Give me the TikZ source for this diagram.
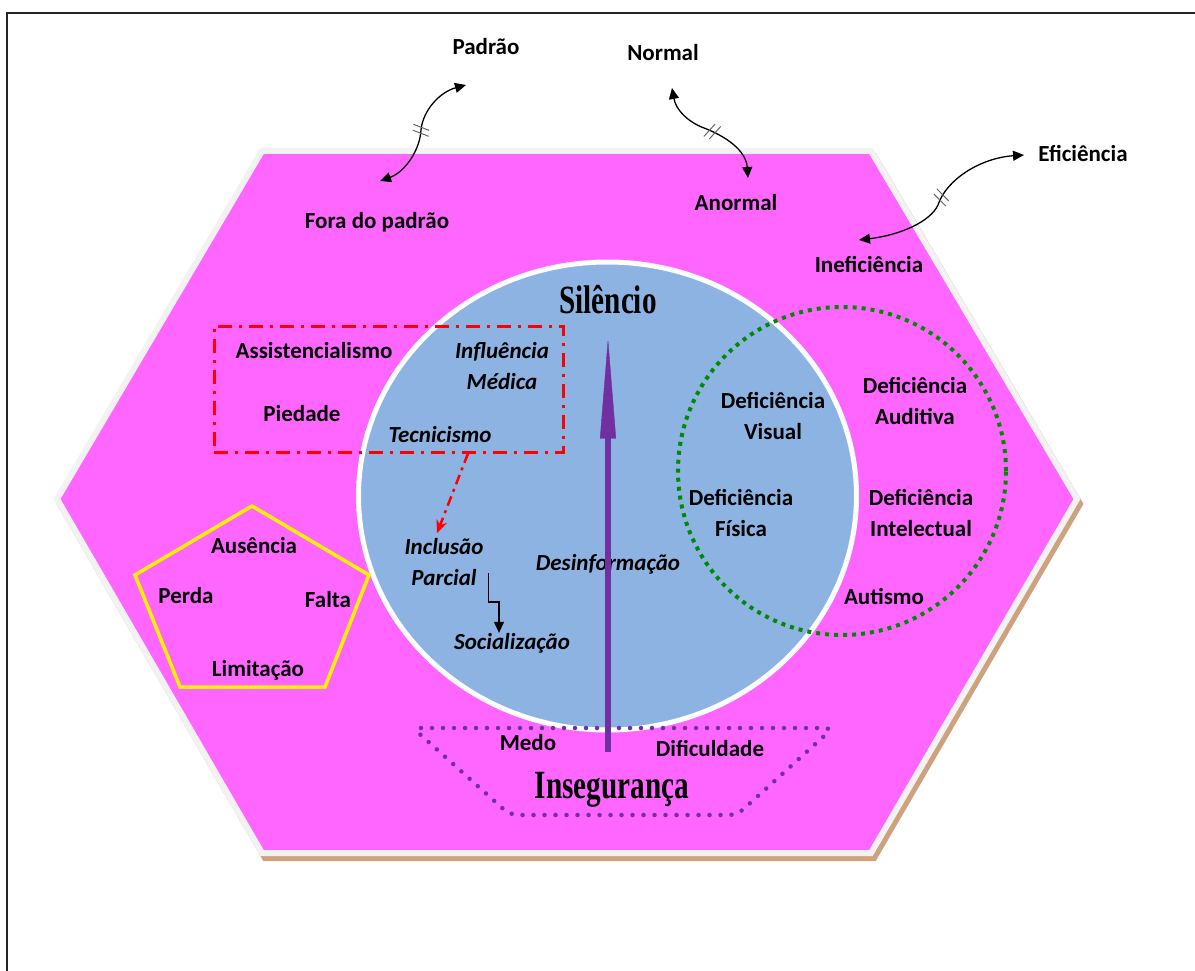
\documentclass[tikz,border=0pt]{standalone}
\usepackage{fontspec}
\usepackage{graphicx}
\setmainfont{Carlito}
\newfontfamily\titlefont{Liberation Serif}
\usetikzlibrary{arrows.meta, decorations.markings}

\definecolor{hexpink}{HTML}{FF66FF}
\definecolor{hexrim}{HTML}{F2F2F2}
\definecolor{hexshadow}{HTML}{CDA27F}
\definecolor{discblue}{HTML}{8DB3E2}
\definecolor{riserpurple}{HTML}{7030A0}
\definecolor{ringgreen}{HTML}{008A00}

\begin{document}
\begin{tikzpicture}[
      x=1pt, y=-1pt,
      every node/.style={inner sep=0pt, align=center, text=black,
                         font=\fontsize{23}{31}\selectfont\bfseries},
      itlabel/.style={font=\fontsize{23}{31}\selectfont\bfseries\itshape},
      title/.style={font=\titlefont\fontsize{40}{40}\selectfont\bfseries},
      pair/.style={{Triangle[length=11pt,width=10pt]}-{Triangle[length=11pt,width=10pt]},
                   line width=1.3pt, postaction={decorate},
                   decoration={markings, mark=at position 0.5 with {
                     \draw[arrows=-, black!60, line width=1pt] (-5,8) -- (0,-8);
                     \draw[arrows=-, black!60, line width=1pt] (1,8) -- (6,-8);}}},
      medbox/.style={draw=red, line width=3pt,
                     dash pattern=on 14pt off 7pt on 3pt off 7pt},
      riser/.style={draw=riserpurple, line width=6pt,
                    -{Triangle[length=100pt,width=16pt,line width=0.4pt]}},
  ]
    \useasboundingbox (0,0) rectangle (1195,971);

    %% --- page frame ---
    \draw[line width=2pt, black!85] (7,971) -- (7,13) -- (1195,13);

    %% --- hexagon with rim and shadow ---
    \fill[hexshadow, draw=hexshadow, line width=6pt, line join=miter]
      (265,156) -- (874,156) -- (1080,504) -- (874,858) -- (265,858) -- (60,504) -- cycle;
    \draw[fill=hexpink, draw=hexrim, line width=6pt, line join=miter]
      (262,151) -- (871,151) -- (1077,499) -- (871,853) -- (262,853) -- (57,499) -- cycle;

    %% --- central disc and rings ---
    \draw[fill=discblue, draw=white, line width=5pt]
      (607.5,496) ellipse[x radius=249pt, y radius=234pt];
    \draw[ringgreen, line width=4pt, dash pattern=on 4pt off 5pt]
      (842,471) circle[radius=164pt];
    \draw[yellow, line width=3.5pt, line join=miter]
      (252,506) -- (369,575) -- (325,687) -- (180,687) -- (135,575) -- cycle;
    \draw[riserpurple, line width=4.5pt, line cap=round,
          dash pattern=on 0pt off 11pt, rounded corners=8pt]
      (413,728) -- (833,728) -- (737,815) -- (510,815) -- cycle;
    \node[medbox, minimum width=349pt, minimum height=126pt] (medic) at (388.5,389) {};

    %% --- outer labels ---
    \node (pad)   at (486,47)   {Padrão};
    \node (norm)  at (663,53)   {Normal};
    \node (efic)  at (1083,153) {Eficiência};
    \node (fora)  at (377,222)  {Fora do padrão};
    \node (anorm) at (736,203)  {Anormal};
    \node (inef)  at (869,264)  {Ineficiência};

    %% --- disc labels ---
    \node[title] (sil) at (608,300) {\scalebox{0.73}[1]{Silêncio}};
    \node (assist) at (314,351) {Assistencialismo};
    \node (piety)  at (302,414) {Piedade};
    \node[itlabel] (infl) at (502,366) {Influência\\Médica};
    \node[itlabel] (tecn) at (440,435) {Tecnicismo};
    \node[itlabel] (incl) at (444,562) {Inclusão\\Parcial};
    \node[itlabel] (desinf) at (608,564) {Desinformação};
    \node[itlabel] (soc)  at (512,643) {Socialização};

    \node (visual) at (773,416) {Deficiência\\Visual};
    \node (audit)  at (915,401) {Deficiência\\Auditiva};
    \node (fisica) at (741,513) {Deficiência\\Física};
    \node (intel)  at (921,513) {Deficiência\\Intelectual};
    \node (aut)    at (884,596) {Autismo};

    \node (medo)  at (528,743) {Medo};
    \node (dific) at (710,748) {Dificuldade};
    \node[title] (insec) at (612,790) {\scalebox{0.73}[1]{Insegurança}};

    %% --- pentagon labels ---
    \node (aus)   at (254,546) {Ausência};
    \node (perda) at (186,596) {Perda};
    \node (falta) at (328,600) {Falta};
    \node (limit) at (258,670) {Limitação};

    %% --- connectors ---
    \draw[pair] ([shift={(3,-41)}]fora.center)
      .. controls +(25,-9) and +(-1,20) .. (421,130)
      .. controls +(2,-20) and +(-26,7) .. ([shift={(-20,38)}]pad.center);
    \draw[pair] ([shift={(9,35)}]norm.center)
      .. controls +(4,22) and +(-16,-6) .. (704,128)
      .. controls +(21,8) and +(-2,-28) .. ([shift={(12,-25)}]anorm.center);
    \draw[pair] ([shift={(-10,-24)}]inef.center)
      .. controls +(41,-5) and +(-8,17) .. (938,205)
      .. controls +(8,-25) and +(-44,3) .. ([shift={(-59,2)}]efic.center);

    \draw[red, line width=2.5pt, dash pattern=on 10pt off 5pt on 3pt off 5pt,
          -{Stealth[length=13pt,width=11pt]}]
      ([xshift=79.5pt]medic.south) -- ([xshift=-7pt,yshift=5pt]incl.north);
    \draw[line width=1.2pt, -{Triangle[length=11pt,width=10pt]}]
      ([xshift=5pt,yshift=-11pt]incl.east) -- ++(0,29) -| ([xshift=-13pt]soc.north);

    \draw[riser, shorten <=20pt] (insec.north -| sil.south) -- ([yshift=-24pt]sil.south);
  \end{tikzpicture}
\end{document}
